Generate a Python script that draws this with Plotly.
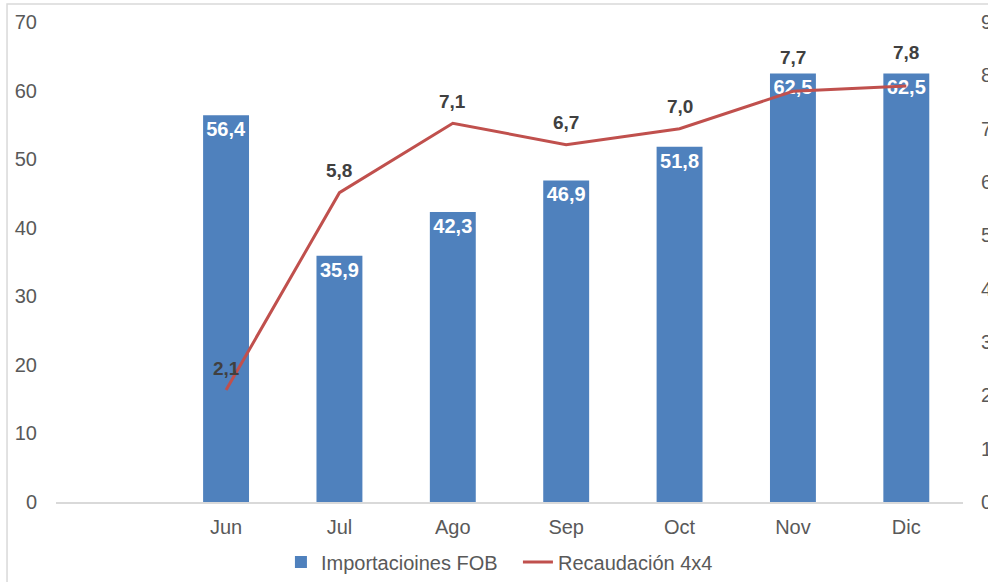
import plotly.graph_objects as go

# datos
meses = ["Jun", "Jul", "Ago", "Sep", "Oct", "Nov", "Dic"]
importaciones_fob = [56.4, 35.9, 42.3, 46.9, 51.8, 62.5, 62.5]
recaudacion_4x4 = [2.1, 5.8, 7.1, 6.7, 7.0, 7.7, 7.8]
ticks_izq = [0, 10, 20, 30, 40, 50, 60, 70]
ticks_der = list(range(0, 10))

# la primera posicion del eje queda vacia, como en el original
pos = list(range(1, len(meses) + 1))

gris = "#595959"
fuente = "Liberation Sans, Arial, sans-serif"
max_izq, max_der, alto_plot = 70, 9, 480

fig = go.Figure()

fig.add_trace(go.Bar(
    x=pos, y=importaciones_fob, name="Importacioines FOB",
    marker=dict(color="#4F81BD", line=dict(color="#4F81BD", width=0)),
    texttemplate="%{y:.1f}", textposition="inside", insidetextanchor="end",
    textfont=dict(color="white", size=20, family=fuente, weight="bold"),
    textangle=0, cliponaxis=False,
))

fig.add_trace(go.Scatter(
    x=pos, y=recaudacion_4x4, name="Recaudación 4x4", yaxis="y2",
    mode="lines", line=dict(color="#C0504D", width=3),
    cliponaxis=False,
))

# etiquetas de la linea, por encima de cada punto
# (si la barra queda justo encima del punto, la etiqueta sube un poco mas)
for xi, yi, bi in zip(pos, recaudacion_4x4, importaciones_fob):
    dif = (bi / max_izq - yi / max_der) * alto_plot
    desp = 34 if 0 < dif < 25 else 22
    fig.add_annotation(x=xi, y=yi, xref="x", yref="y2", yshift=desp,
                       text=f"{yi:.1f}".replace(".", ","), showarrow=False,
                       font=dict(color="#404040", size=19, family=fuente, weight="bold"))

fig.update_layout(
    width=988, height=582,
    margin=dict(l=56, r=25, t=22, b=80, autoexpand=False),
    plot_bgcolor="white", paper_bgcolor="white",
    separators=",.",
    font=dict(family=fuente, color=gris, size=20),
    bargap=0.595,
    showlegend=True,
    legend=dict(orientation="h", x=0.248, xanchor="left", y=-0.125, yanchor="middle",
                font=dict(size=20, color=gris), itemwidth=30, tracegroupgap=0,
                entrywidth=192),
    xaxis=dict(range=[-0.5, 7.5], tickvals=pos, ticktext=meses, showgrid=False,
               zeroline=False, showline=True, linecolor="#D9D9D9", linewidth=1.5,
               ticks="", ticklabelstandoff=6, automargin=False,
               tickfont=dict(size=20, color=gris)),
    yaxis=dict(range=[0, max_izq], tickvals=ticks_izq, showgrid=False, zeroline=False,
               showline=False, ticks="", ticklabelstandoff=18, automargin=False,
               tickfont=dict(size=20, color=gris)),
    yaxis2=dict(range=[0, max_der], tickvals=ticks_der, overlaying="y", side="right",
                showgrid=False, zeroline=False, showline=False, ticks="",
                ticklabelstandoff=17, automargin=False,
                tickfont=dict(size=20, color=gris)),
    shapes=[dict(type="rect", xref="paper", yref="paper",
                 x0=-0.054, x1=1.3, y0=-0.4, y1=1.0375,
                 line=dict(color="#D9D9D9", width=1.5), fillcolor="rgba(0,0,0,0)",
                 layer="below")],
)

# sin el margen del body, el grafico empieza en la esquina de la ventana
fig.write_html("out.html", config={"displayModeBar": False},
               post_script="document.body.style.margin='0';")
